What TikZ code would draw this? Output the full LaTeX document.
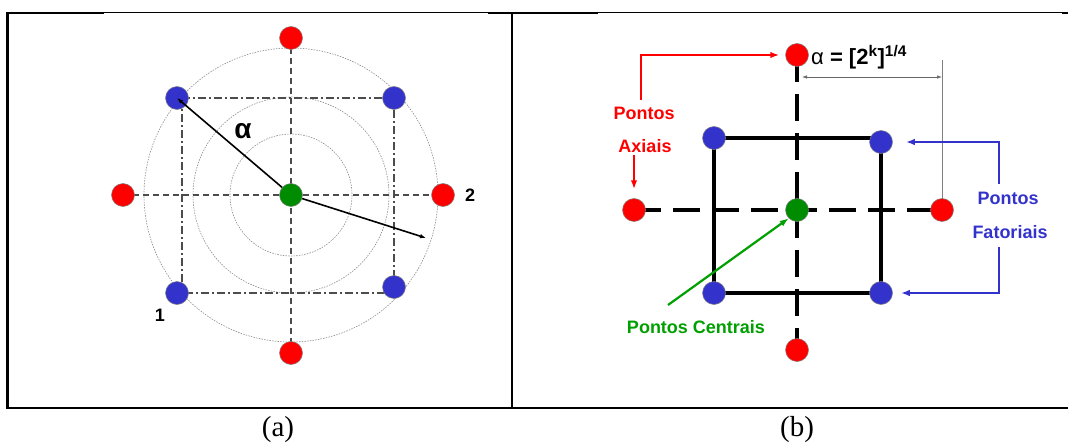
\documentclass[tikz,border=0pt]{standalone}
\usepackage{fontspec}
\setmainfont{Liberation Serif}
\newfontfamily\arialfont{Liberation Sans}
\usetikzlibrary{arrows.meta,positioning,calc,backgrounds}
\definecolor{axred}{RGB}{255,0,0}
\definecolor{factblue}{RGB}{51,51,204}
\definecolor{ctrgreen}{RGB}{0,140,0}
\definecolor{txtgreen}{RGB}{0,160,0}

\begin{document}
\begin{tikzpicture}[x=1pt,y=-1pt,>={Latex[length=7pt,width=6pt]},
  dot/.style={circle,draw=black!50,line width=0.5pt,inner sep=0pt,minimum size=23pt},
  axial/.style={dot,fill=axred},
  fact/.style={dot,fill=factblue},
  centre/.style={dot,fill=ctrgreen},
  lbl/.style={font=\arialfont\bfseries\fontsize{18}{20}\selectfont,inner sep=2pt},
  caption/.style={font=\fontsize{29}{32}\selectfont},
  griddash/.style={black!70,line width=1.4pt,dash pattern=on 6pt off 4pt},
  griddot/.style={black!70,line width=1.4pt,dash pattern=on 8pt off 3pt on 2pt off 3pt},
  ring/.style={black!45,line width=0.6pt,dash pattern=on 1.5pt off 1.2pt},
  conn/.style={line width=2.2pt,>={Latex[length=9pt,width=6.5pt]}}]
  \useasboundingbox (0,0) rectangle (1068,444);

  % cornice della tabella
  \draw[line width=2.5pt] (7.5,12.5) -- (7.5,408) -- (1068,408);
  \draw[line width=2.5pt] (512,12.5) -- (512,408);
  \draw[line width=0.8pt] (7.5,12.3) -- (1068,12.3);
  \draw[line width=2.2pt] (6.25,13.3) -- (104,13.3) (488,13.3) -- (598,13.3) (1062,13.3) -- (1068,13.3);

  % (a) disegno composto centrale
  \node[axial] (at) at (291,38) {};
  \node[axial] (ab) at (291,353) {};
  \node[axial] (al) at (123,195) {};
  \node[axial] (ar) at (443,195) {};
  \node[fact] (f1) at (177,293) {};
  \node[fact] (f2) at (394,287) {};
  \node[fact] (f3) at (177,98) {};
  \node[fact] (f4) at (394,98) {};
  \node[centre] (ca) at (291,195) {};
  \begin{scope}[on background layer]
    \foreach \r in {61,98,147} \draw[ring] (ca) circle (\r);
    \draw[griddash] (al.center) -- (ar.center) (at.center) -- (ab.center);
    \draw[griddot] ([xshift=5pt]f3.center) |- (f4.center) -- (f4.center |- f1.center) -- (f1.center);
    \draw[griddot] ([xshift=5pt]f3.center) -- ([xshift=5pt]f1.center);
  \end{scope}
  \coordinate (r2) at (426,238);
  \draw[->,line width=1.6pt,>={Latex[length=6pt,width=4.5pt]}] (ca) -- (f3.center);
  \draw[->,line width=1.6pt,>={Latex[length=6pt,width=4.5pt]}] (ca) -- (r2);
  \node[font=\arialfont\bfseries\fontsize{28}{30}\selectfont] (alfa) at (243,131) {α};
  \node[lbl] (n1) at (160,315) {1};
  \node[lbl] (n2) at (470,195) {2};
  \node[caption] (capa) at (278,430) {(a)};

  % (b) punti fattoriali, assiali e centrali
  \node[axial] (bt) at (797,55) {};
  \node[axial] (bb) at (797,350) {};
  \node[axial] (bl) at (634,210) {};
  \node[axial] (br) at (942,210) {};
  \node[fact] (g1) at (714,138) {};
  \node[fact] (g2) at (881,142) {};
  \node[fact] (g3) at (714,293) {};
  \node[fact] (g4) at (881,293) {};
  \node[centre] (cb) at (797,210) {};
  \coordinate (dimtop) at (942,60);
  \coordinate (diml) at (802,77);
  \coordinate (dimr) at (942,77);
  \begin{scope}[on background layer]
    \draw[line width=3.2pt] (g1.center) -- (g1.center -| g2.center) -- (g4.center) -- (g3.center) -- cycle;
    \draw[line width=3.2pt,dash pattern=on 27pt off 12pt] (bl.center) -- (br.center);
    \draw[line width=3.2pt,dash pattern=on 27pt off 12pt] (bt.center) -- (bb.center);
    \draw[gray,line width=0.8pt] (dimtop) -- (br.center);
  \end{scope}
  \draw[<->,black!60,line width=0.7pt,>={Latex[length=5pt,width=3.5pt]}] (diml) -- (dimr);
  \node[anchor=west,inner sep=0pt,font=\arialfont\fontsize{22}{24}\selectfont] (alfb) at (811,57)
    {α \textbf{= [2\textsuperscript{k}]\textsuperscript{1/4}}};

  \node[lbl,text=axred] (axA) at (644,113) {Pontos};
  \node[lbl,text=axred] (axB) at (645,146) {Axiais};
  \draw[conn,axred,->,shorten >=6pt] ([xshift=-3pt,yshift=5pt]axA.north) |- (bt.west);
  \draw[conn,axred,->,shorten >=9pt] (axB.south -| bl) -- (bl.north);

  \node[lbl,text=factblue] (fpA) at (1008,198) {Pontos};
  \node[lbl,text=factblue] (fpB) at (1010,232) {Fatoriais};
  \draw[conn,factblue,->] ([xshift=-9pt,yshift=6pt]fpA.north) |- ([xshift=13pt]g2.east);
  \draw[conn,factblue,->] ([xshift=-11pt,yshift=-6pt]fpB.south) |- ([xshift=8pt]g4.east);

  \node[lbl,text=txtgreen] (ctr) at (696,327) {Pontos Centrais};
  \coordinate (gstart) at (668,305);
  \draw[conn,txtgreen,->] (gstart) -- (cb.south west);

  \node[caption] (capb) at (797,430) {(b)};
\end{tikzpicture}
\end{document}
